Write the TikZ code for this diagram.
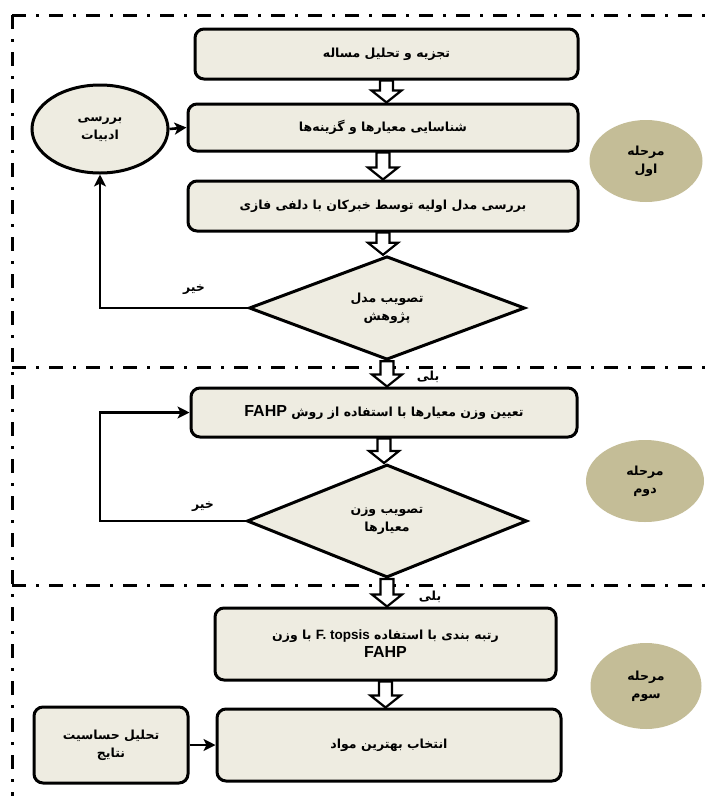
\documentclass[tikz,border=0pt]{standalone}
\usepackage{fontspec}
\usetikzlibrary{shapes.geometric,calc,arrows.meta}
\TeXXeTstate=1
\newfontfamily\fa[Script=Arabic]{DejaVu Sans}
\newfontfamily\lat{Liberation Sans}
\newcommand{\rl}[1]{\beginR #1\endR}
\newcommand{\lr}[2][13.5]{\beginL{\lat\bfseries\fontsize{#1}{17}\selectfont #2}\endL}
\definecolor{boxfill}{HTML}{EEECE1}
\definecolor{stagefill}{HTML}{C4BD97}
\tikzset{
	stepbox/.style={draw, rounded corners=9pt, line width=3pt, fill=boxfill, align=center, inner sep=0pt},
	ask/.style={draw, diamond, line width=3pt, fill=boxfill, align=center, inner sep=0pt},
	stage/.style={ellipse, fill=stagefill, align=center, inner sep=0pt},
	link/.style={line width=2.6pt, -{Stealth[length=12pt, width=12pt, inset=3pt]}},
	fatarrow/.style={line width=2.2pt, fill=white, line join=miter},
	fat/.style={to path={let \p1=(\tikztostart), \p2=(\tikztotarget) in
		(\x1-6.5pt,\y1) -- (\x1+6.5pt,\y1) -- (\x1+6.5pt,\y2+12pt) -- (\x1+15pt,\y2+12pt)
		-- (\x1,\y2) -- (\x1-15pt,\y2+12pt) -- (\x1-6.5pt,\y2+12pt) -- cycle}},
	frameline/.style={line width=3pt, dash pattern=on 14pt off 10pt on 3pt off 10pt}
}
\begin{document}
\begin{tikzpicture}[x=1pt, y=-1pt, font=\fa\bfseries\fontsize{12.5}{18}\selectfont]
	\useasboundingbox (0,0) rectangle (706,796);

	% stage borders
	\draw[frameline] (12,15) -- (706,15);
	\draw[frameline] (12,15) -- (12,796);
	\draw[frameline] (12,367) -- (706,367);
	\draw[frameline] (12,585) -- (706,585);

	% stage 1
	\node[stepbox, minimum width=383pt, minimum height=50pt] (t1) at (386.5,54) {\rl{تجزیه و تحلیل مساله}};
	\node[stepbox, minimum width=390pt, minimum height=47pt] (t2) at (383,127.5) {\rl{شناسایی معیارها و گزینه‌ها}};
	\node[stepbox, minimum width=390pt, minimum height=50pt] (t3) at (383,206) {\rl{بررسی مدل اولیه توسط خبرکان با دلفی فازی}};
	\node[ask, minimum width=276pt, minimum height=100pt] (d1) at (387,308) {\rl{تصویب مدل}\\\rl{پژوهش}};
	\node[ellipse, draw, line width=3pt, fill=boxfill, align=center, inner sep=0pt, minimum width=136pt, minimum height=88pt] (lit) at (100,129) {\rl{بررسی}\\\rl{ادبیات}};
	\node[stage, minimum width=113pt, minimum height=82pt] (s1) at (646,161) {\rl{مرحله}\\\rl{اول}};

	\draw[fatarrow] (t1.south) to[fat] (t2.north);
	\draw[fatarrow] (t2.south) to[fat] (t3.north);
	\draw[fatarrow] (t3.south) to[fat] (d1.north);
	\draw[link] (lit.east) -- (t2.west);
	\draw[link] (d1.west) -| (lit.south);
	\node (no1) at (194,290) {\rl{خیر}};

	% stage 2
	\node[stepbox, minimum width=386pt, minimum height=49pt] (t4) at (384,412.5) {\rl{تعیین وزن معیارها با استفاده از روش \lr[16]{FAHP}}};
	\node[ask, minimum width=280pt, minimum height=113pt] (d2) at (387,521) {\rl{تصویب وزن}\\\rl{معیارها}};
	\node[stage, minimum width=118pt, minimum height=82pt] (s2) at (645,481) {\rl{مرحله}\\\rl{دوم}};

	\draw[fatarrow] (d1.south) to[fat] (t4.north);
	\draw[fatarrow] (t4.south) to[fat] (d2.north);
	\coordinate (c2) at (100,521);
	\draw[link] (d2.west) -- (c2) |- (t4.west);
	\node (yes1) at (428,377) {\rl{بلی}};
	\node (no2) at (203,507) {\rl{خیر}};

	% stage 3
	\node[stepbox, minimum width=341pt, minimum height=72pt] (t5) at (385.5,644) {\rl{رتبه بندی با استفاده \lr{F. topsis} با وزن}\\\lr[16]{FAHP}};
	\node[stepbox, minimum width=344pt, minimum height=72pt] (t6) at (389,745) {\rl{انتخاب بهترین مواد}};
	\node[stepbox, minimum width=154pt, minimum height=76pt] (nt) at (111,745) {\rl{تحلیل حساسیت}\\\rl{نتایج}};
	\node[stage, minimum width=111pt, minimum height=86pt] (s3) at (646,686) {\rl{مرحله}\\\rl{سوم}};

	\draw[fatarrow] (d2.south) to[fat] (t5.north);
	\draw[fatarrow] (t5.south) to[fat] (t6.north);
	\draw[link] (nt.east) -- (t6.west);
	\node (yes2) at (430,597) {\rl{بلی}};

\end{tikzpicture}
\end{document}
